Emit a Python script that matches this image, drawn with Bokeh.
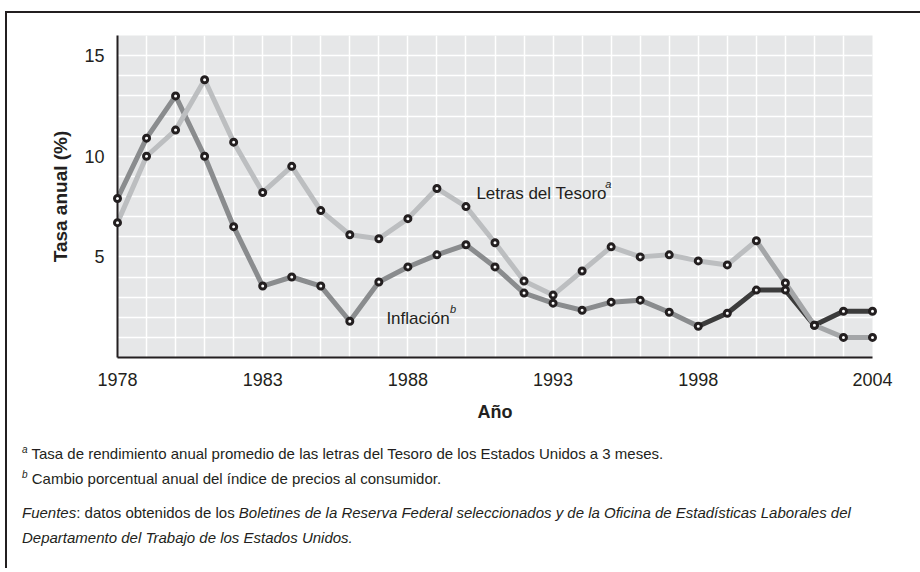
from bokeh.plotting import figure
from bokeh.models import FixedTicker, Label, Div
from bokeh.layouts import column
from bokeh.embed import file_html
from bokeh.resources import INLINE
from bokeh.core.properties import value

# ---------------- data ----------------
years = list(range(1978, 2005))
treasury = [6.7, 10.0, 11.3, 13.8, 10.7, 8.2, 9.5, 7.3, 6.1, 5.9, 6.9, 8.4, 7.5,
            5.7, 3.8, 3.1, 4.3, 5.5, 5.0, 5.1, 4.8, 4.6, 5.8, 3.7, 1.6, 1.0, 1.0]
inflation = [7.9, 10.9, 13.0, 10.0, 6.5, 3.55, 4.0, 3.55, 1.8, 3.75, 4.5, 5.1, 5.6,
             4.5, 3.2, 2.7, 2.35, 2.75, 2.85, 2.25, 1.55, 2.2, 3.35, 3.35, 1.6, 2.3, 2.3]
x_tick_years = [1978, 1983, 1988, 1993, 1998, 2004]
y_tick_values = [5, 10, 15]

FONT = "Liberation Sans"
INK = "#231f20"

p = figure(width=905, height=420, x_range=(1978, 2004), y_range=(0, 16),
           output_backend="svg", toolbar_location=None,
           min_border_left=110, min_border_right=40, min_border_top=22,
           min_border_bottom=76)
p.background_fill_color = "#e6e7e8"
p.border_fill_color = "white"
p.outline_line_color = None

p.xaxis.ticker = FixedTicker(ticks=x_tick_years)
p.yaxis.ticker = FixedTicker(ticks=y_tick_values)
p.xgrid.ticker = FixedTicker(ticks=years)
p.ygrid.ticker = FixedTicker(ticks=list(range(0, 17)))
for g in (p.xgrid, p.ygrid):
    g.grid_line_color = "white"
    g.grid_line_width = 1.5

for ax in (p.xaxis, p.yaxis):
    ax.axis_line_color = INK
    ax.axis_line_width = 2
    ax.major_tick_line_color = None
    ax.minor_tick_line_color = None
    ax.major_label_text_font = FONT
    ax.major_label_text_font_size = "18px"
    ax.major_label_text_color = INK
    ax.axis_label_text_font = FONT
    ax.axis_label_text_font_style = "bold"
    ax.axis_label_text_color = INK

p.xaxis.axis_label = "Año"
p.xaxis.axis_label_text_font_size = "18px"
p.xaxis.major_label_standoff = 9
p.xaxis.axis_label_standoff = 13
p.yaxis.axis_label = "Tasa anual (%)"
p.yaxis.axis_label_text_font_size = "19px"
p.yaxis.major_label_standoff = 7
p.yaxis.axis_label_standoff = 10

LIGHT = "#bcbec0"
MID = "#8a8c8e"
MID2 = "#a4a6a8"
DARK = "#3c3c3c"

# inflation: medium gray to 1998, dark afterwards
p.line(years[:21], inflation[:21], line_color=MID, line_width=5)
p.line(years[20:], inflation[20:], line_color=DARK, line_width=5)
# treasury: light gray to 2000, medium afterwards
p.line(years[:23], treasury[:23], line_color=LIGHT, line_width=5)
p.line(years[22:], treasury[22:], line_color=MID2, line_width=5)

for series in (inflation, treasury):
    r = p.scatter(years, series, size=6, fill_color="white", line_color=INK,
                  line_width=3)
    r.level = "overlay"

p.add_layout(Label(x=1990.36, y=8.14, text="Letras del Tesoro", text_font=FONT,
                   text_font_size="17px", text_color=INK, text_baseline="alphabetic"))
p.add_layout(Label(x=1994.8, y=8.62, text="a", text_font=FONT, text_font_style="italic",
                   text_font_size="11px", text_color=INK, text_baseline="alphabetic"))
p.add_layout(Label(x=1987.26, y=1.92, text="Inflación", text_font=FONT,
                   text_font_size="17px", text_color=INK, text_baseline="alphabetic"))
p.add_layout(Label(x=1989.45, y=2.4, text="b", text_font=FONT, text_font_style="italic",
                   text_font_size="11px", text_color=INK, text_baseline="alphabetic"))

SUP = "font-size:10px; line-height:0; vertical-align:baseline; position:relative; top:-6px;"
notes_html = f"""
<div style="font-family:'{FONT}'; font-size:15px; color:{INK}; line-height:25px;
            margin:0; padding-top:3px; padding-left:10px; white-space:nowrap;">
<div><i style="{SUP}">a</i> Tasa de rendimiento anual promedio de las letras del Tesoro de los Estados Unidos a 3 meses.</div>
<div><i style="{SUP}">b</i> Cambio porcentual anual del índice de precios al consumidor.</div>
<div style="margin-top:9px"><i>Fuentes</i>: datos obtenidos de los <i>Boletines de la Reserva Federal seleccionados y de la Oficina de Estadísticas Laborales del</i></div>
<div><i>Departamento del Trabajo de los Estados Unidos.</i></div>
</div>
"""
notes = Div(text=notes_html, width=905, height=125)

layout = column(p, notes, styles={"border-top": f"2px solid {INK}",
                                  "border-left": f"2px solid {INK}",
                                  "margin-left": "5px", "margin-top": "11px"})

open("out.html", "w").write(file_html(layout, INLINE))
